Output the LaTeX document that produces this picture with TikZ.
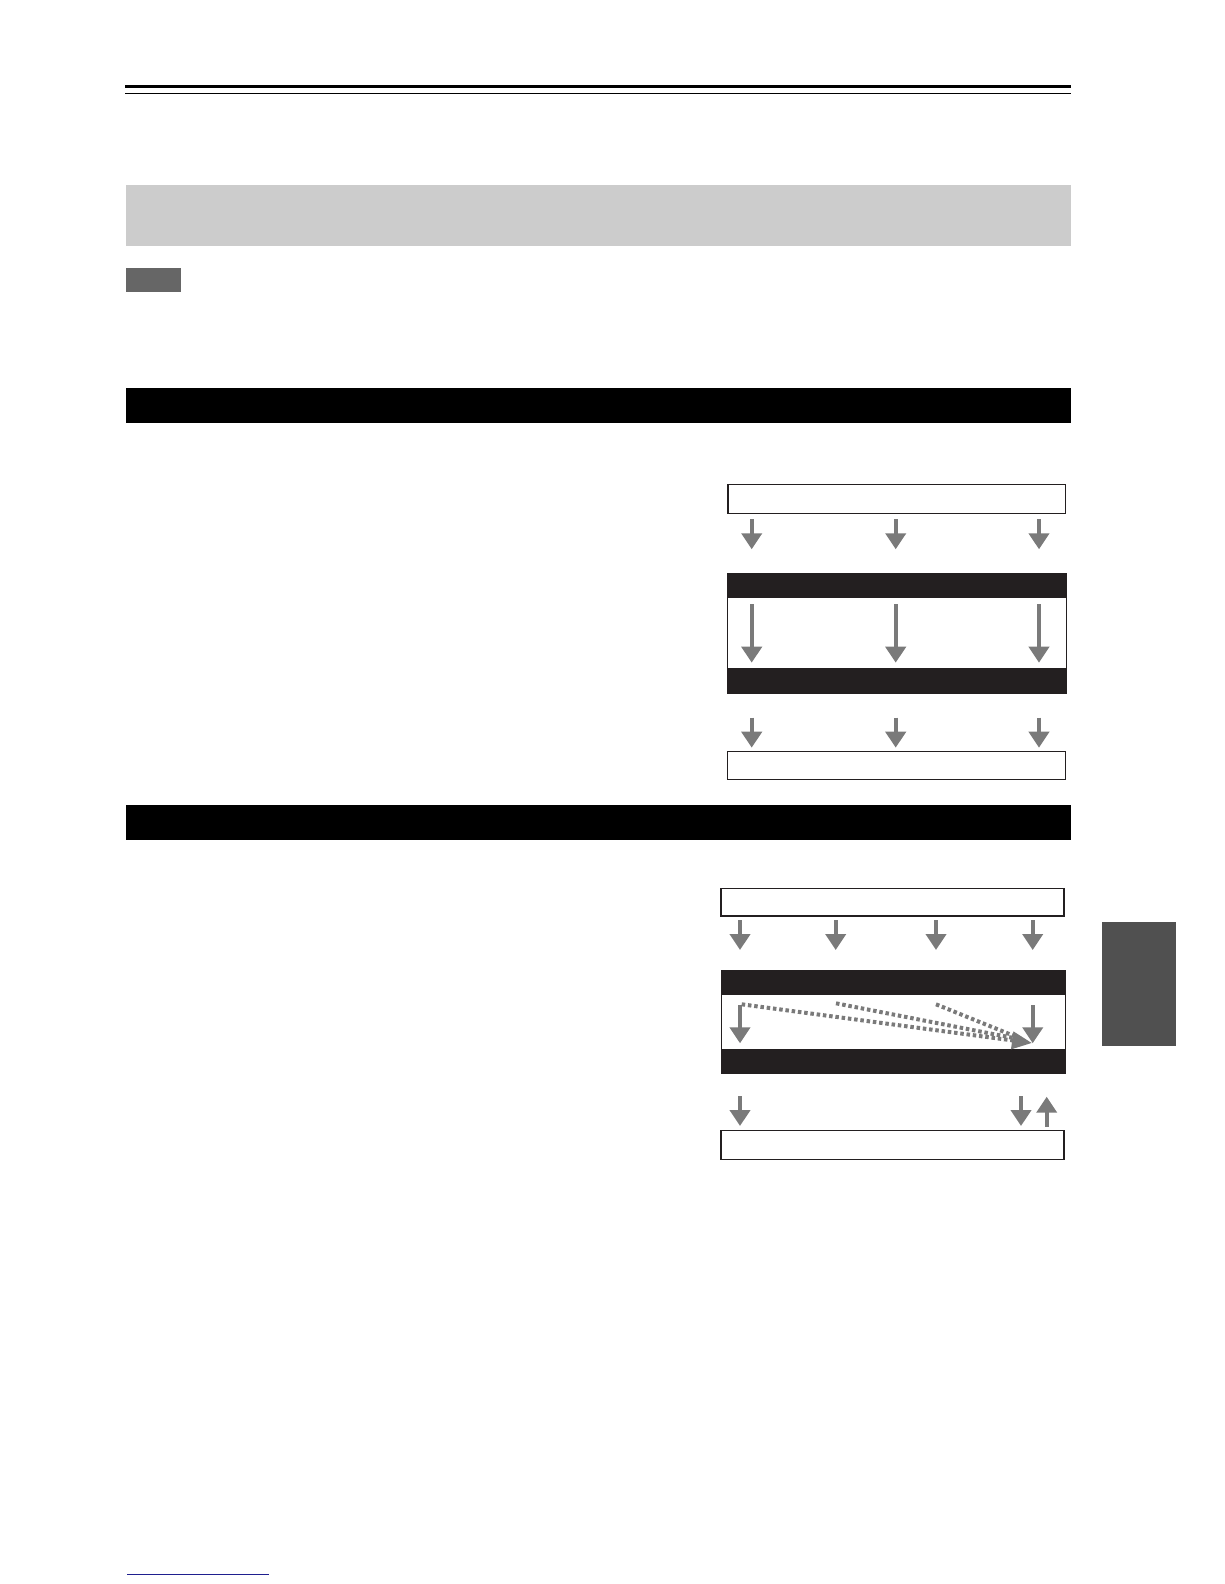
\documentclass[tikz,border=0pt]{standalone}
\usetikzlibrary{arrows.meta}
\definecolor{arrowgray}{HTML}{7A7A7A}
\definecolor{bannergray}{HTML}{CCCCCC}
\definecolor{notegray}{HTML}{666666}
\definecolor{tabgray}{HTML}{505050}
\definecolor{barblack}{HTML}{231F20}
\definecolor{linkblue}{HTML}{1F1F8F}
\tikzset{
	garrow/.style={draw=arrowgray, line width=4pt, -{Triangle[width=20pt,length=16pt]}},
	dotline/.style={draw=arrowgray, line width=4pt, dash pattern=on 3.5pt off 2.8pt},
	flowbox/.style={draw=barblack, line width=1.5pt, fill=white},
}
\begin{document}
\begin{tikzpicture}[x=1pt,y=-1pt]
				\useasboundingbox (0,0) rectangle (1224,1584);
				% header rules
				\fill (125,85) rectangle (1071,87.7);
				\fill (125,92.8) rectangle (1071,94);
				\fill[bannergray] (126,185) rectangle (1071,245.7);
				\fill[notegray] (126,268) rectangle (181,291.7);
				% section bars
				\fill (126,388.3) rectangle (1071,422.7);
				\fill (126,805) rectangle (1071,840);
				% first chart
				\draw[flowbox] (728,484.3) rectangle (1065.5,513.3);
				\draw[barblack, line width=1pt] (727.5,573.3) rectangle (1066,693.3);
				\fill[barblack] (727.3,573.3) rectangle (1066,597.7);
				\fill[barblack] (727.3,668) rectangle (1066,693.3);
				\foreach \x in {751.7,895.7,1039} {
					\draw[garrow] (\x,519) -- (\x,549.3);
					\draw[garrow] (\x,604) -- (\x,662.7);
					\draw[garrow] (\x,717.7) -- (\x,747.7);
				}
				\draw[flowbox] (727.3,751.7) rectangle (1065.5,779.3);
				% second chart
				\draw[flowbox] (721,888.3) rectangle (1064,916);
				\foreach \x in {740,835.7,936,1032.7}
					\draw[garrow] (\x,920) -- (\x,950);
				\draw[barblack, line width=1pt] (721.5,970) rectangle (1065,1073.3);
				\fill[barblack] (721,970) rectangle (1065,995);
				\fill[barblack] (721,1049) rectangle (1065,1073.3);
				\draw[garrow] (740,1005) -- (740,1043.3);
				\draw[garrow] (1032.7,1005) -- (1032.7,1043.3);
				\draw[dotline] (836,1003.3) -- (1016,1038.5);
				\draw[dotline] (936,1004.3) -- (1018,1037.5);
				\draw[dotline, -{Triangle[width=17pt,length=20pt]}] (741.7,1004.3) -- (1032,1043);
				\draw[garrow] (740,1096) -- (740,1126);
				\draw[garrow] (1021,1096) -- (1021,1126);
				\draw[garrow] (1046.7,1126.7) -- (1046.7,1096.7);
				\draw[flowbox] (721,1130.7) rectangle (1064,1159.3);
				% side tab and footer link
				\fill[tabgray] (1102,922) rectangle (1176,1045.7);
				\draw[linkblue, line width=1pt] (127,1574.7) -- (269,1574.7);
\end{tikzpicture}
\end{document}
